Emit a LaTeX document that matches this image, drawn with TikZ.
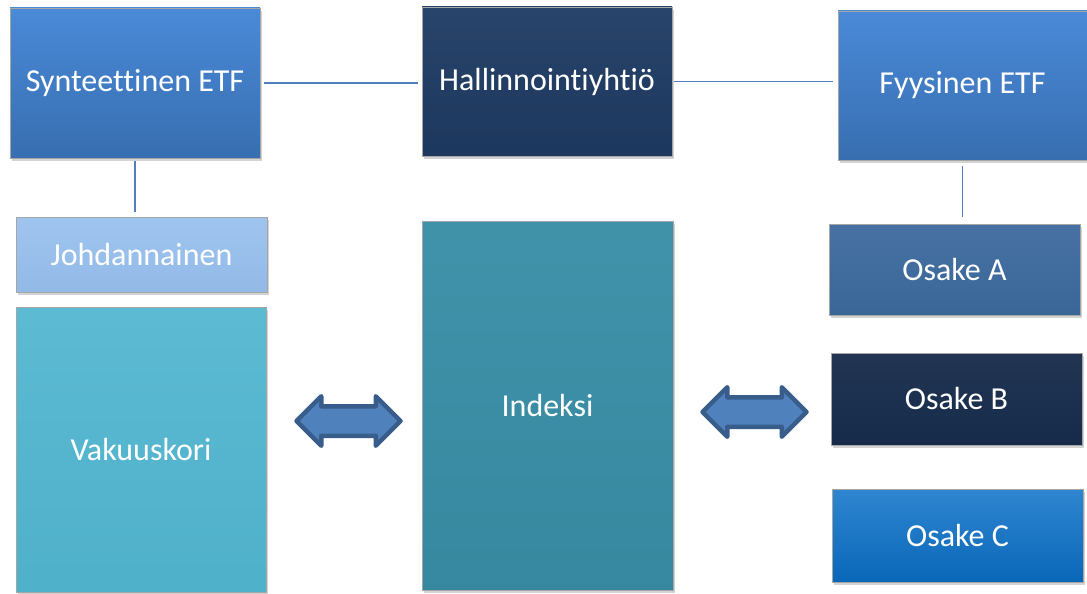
\documentclass[tikz,border=0pt]{standalone}
\usepackage{fontspec}
\setmainfont{Carlito}[Ligatures={NoCommon}]
\usetikzlibrary{shapes.arrows,shadows}

\definecolor{etfblue}{HTML}{3F7DC8}
\definecolor{etftop}{HTML}{4A8AD8}
\definecolor{navy}{HTML}{1E3A62}
\definecolor{lightblue}{HTML}{97BFEE}
\definecolor{skyteal}{HTML}{52B6D0}
\definecolor{teal}{HTML}{388EA6}
\definecolor{steel}{HTML}{3D6A9E}
\definecolor{darknavy}{HTML}{162B4A}
\definecolor{brightblue}{HTML}{0A70C8}
\definecolor{linkblue}{HTML}{4F7FC0}
\definecolor{arrowfill}{HTML}{4F81BD}
\definecolor{arrowedge}{HTML}{385D8A}

\begin{document}
\begin{tikzpicture}[x=1pt,y=-1pt]
  \def\fs{32}

\tikzstyle{box}=[rectangle,text=white,inner sep=0pt,font=\fontsize{\fs}{\fs}\selectfont,
  draw=black!35,line width=0.6pt,drop shadow={shadow xshift=2pt,shadow yshift=-3pt,opacity=0.35}]
\tikzstyle{link}=[draw=linkblue,line width=1.5pt]
\tikzstyle{swap}=[double arrow,double arrow tip angle=90,double arrow head extend=10pt,
  inner xsep=0pt,inner ysep=12.5pt,fill=arrowfill,draw=arrowedge,line width=4.5pt,line join=round]

\useasboundingbox (0,0) rectangle (1087,594);

% top row
\node[box,top color=etftop,bottom color=etfblue!88!black,minimum width=250pt,minimum height=150pt] (synt) at (135,83) {Synteettinen ETF};
\node[box,top color=navy!95!white,bottom color=navy!95!black,minimum width=250pt,minimum height=149pt] (hall) at (547,81.5) {Hallinnointiyhtiö};
\node[box,top color=etftop,bottom color=etfblue!88!black,minimum width=249pt,minimum height=149pt] (fyys) at (962.5,85.5) {Fyysinen ETF};

% left column
\node[box,top color=lightblue!92!white,bottom color=lightblue!97!black,minimum width=251pt,minimum height=75pt] (johd) at (141.5,254.5) {Johdannainen};
\node[box,top color=skyteal!94!white,bottom color=skyteal!97!black,minimum width=250pt,minimum height=285pt] (vaku) at (141,449.5) {Vakuuskori};

% middle
\node[box,top color=teal!96!white,bottom color=teal!96!black,minimum width=251pt,minimum height=369pt] (inde) at (547.5,405.5) {Indeksi};

% right column
\node[box,top color=steel!95!white,bottom color=steel!96!black,minimum width=251pt,minimum height=91pt] (osA) at (954.5,269.5) {Osake A};
\node[box,top color=darknavy!95!white,bottom color=darknavy,minimum width=251pt,minimum height=92pt] (osB) at (956.5,399) {Osake B};
\node[box,top color=brightblue!85!white,bottom color=brightblue!92!black,minimum width=251pt,minimum height=93pt] (osC) at (957.5,535.5) {Osake C};

% swaps
\node[swap,minimum height=104pt] (arrL) at (348.5,421) {};
\node[swap,minimum height=104pt] (arrR) at (754.5,412) {};

% links
\draw[link,shorten <=4pt,shorten >=4pt] (synt.east) -- (hall.west |- synt.east);
\draw[link,shorten <=2pt,shorten >=5pt] (hall.east) -- (fyys.west |- hall.east);
\draw[link,shorten <=3pt,shorten >=5pt] (synt.south) -- (synt.south |- johd.north);
\draw[link,shorten <=6pt,shorten >=7pt] (fyys.south) -- (fyys.south |- osA.north);
\end{tikzpicture}
\end{document}
